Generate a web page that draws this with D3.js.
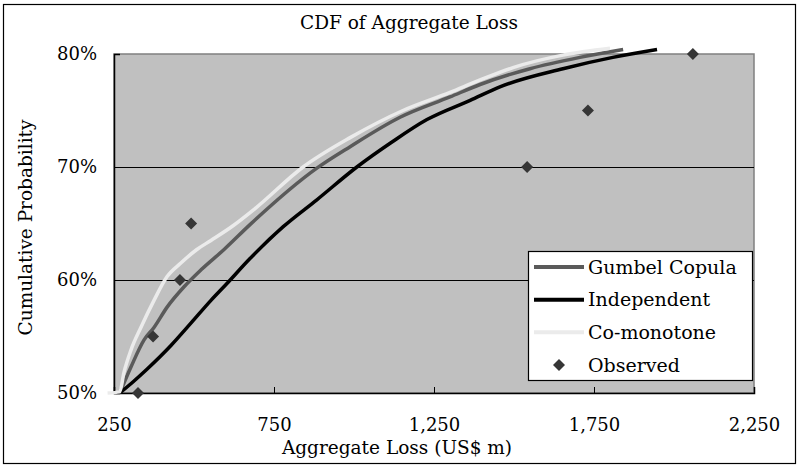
<!DOCTYPE html>
<html>
<head>
<meta charset="utf-8">
<script src="https://cdn.jsdelivr.net/npm/d3@7/dist/d3.min.js"></script>
<style>
  html, body { margin: 0; padding: 0; background: #fff; }
  svg { display: block; }
  text { font-family: "DejaVu Serif", "Liberation Serif", serif; fill: #000; }
</style>
</head>
<body>
<svg id="chart" width="800" height="468"></svg>
<script>
// Aggregate loss (US$ m) against cumulative probability (%)
const gumbelLoss = [268, 303, 344, 375, 416, 469, 522, 594, 675, 884, 988, 1144, 1300, 1394, 1550, 1706, 1841];
const gumbelProb = [50, 52.3, 54.7, 55.8, 57.6, 59.4, 60.9, 62.7, 64.9, 69.9, 71.8, 74.4, 76.2, 77.3, 78.7, 79.7, 80.4];

const independentLoss = [268, 310, 353, 428, 491, 553, 600, 675, 778, 884, 1009, 1113, 1228, 1363, 1456, 1653, 1809, 1947];
const independentProb = [50, 51, 52.1, 54.2, 56.2, 58.2, 59.6, 61.9, 64.7, 67.1, 70, 72.1, 74.2, 75.9, 77.1, 78.7, 79.7, 80.4];

const comonotoneLoss = [230, 268, 281, 303, 334, 375, 416, 459, 509, 553, 622, 690, 841, 988, 1153, 1300, 1394, 1497, 1653, 1800];
const comonotoneProb = [50, 50.1, 51.8, 53.8, 55.8, 58.2, 60.3, 61.5, 62.7, 63.5, 64.8, 66.3, 70, 72.6, 75, 76.6, 77.7, 78.8, 79.9, 80.5];

const observedLoss = [325, 372, 456, 491, 1541, 1731, 2059];
const observedProb = [50, 55, 60, 65, 70, 75, 80];

const xTicks = [250, 750, 1250, 1750, 2250];
const yTicks = [50, 60, 70, 80];

const seriesNames = ["Gumbel Copula", "Independent", "Co-monotone", "Observed"];

// ---- layout ----
const W = 800, H = 468;
const plot = { left: 114, top: 54, right: 754, bottom: 393 };
const lineColors = { "Gumbel Copula": "#5a5a5a", "Independent": "#000000", "Co-monotone": "#ebebeb" };
const markerColor = "#363636";

const svg = d3.select("#chart");

const x = d3.scaleLinear().domain([250, 2250]).range([plot.left, plot.right]);
const y = d3.scaleLinear().domain([50, 80]).range([plot.bottom, plot.top]);

// outer frame
svg.append("rect")
  .attr("x", 3.5).attr("y", 4.5).attr("width", W - 8).attr("height", H - 9)
  .attr("fill", "#fff").attr("stroke", "#000").attr("stroke-width", 1.2);

// plot background
svg.append("rect")
  .attr("x", plot.left).attr("y", plot.top)
  .attr("width", plot.right - plot.left).attr("height", plot.bottom - plot.top)
  .attr("fill", "#c0c0c0").attr("stroke", "#808080").attr("stroke-width", 1.5);

// horizontal gridlines
svg.append("g")
  .selectAll("line")
  .data(yTicks.filter(t => t > 50 && t < 80))
  .join("line")
  .attr("x1", plot.left).attr("x2", plot.right)
  .attr("y1", d => y(d) + 0.5).attr("y2", d => y(d) + 0.5)
  .attr("stroke", "#000").attr("stroke-width", 1);

// x axis: tick marks pointing into the plot
const xAxisG = svg.append("g")
  .attr("transform", `translate(0,${plot.bottom})`)
  .call(d3.axisBottom(x).tickValues(xTicks).tickSize(-6).tickPadding(25).tickFormat(d3.format(",")));
xAxisG.select(".domain").attr("stroke", "#000").attr("stroke-width", 1.5);
xAxisG.selectAll(".tick line").attr("stroke", "#000");
xAxisG.selectAll("text")
  .attr("font-family", "DejaVu Serif").attr("font-size", 18).attr("fill", "#000");

// y axis
const yAxisG = svg.append("g")
  .attr("transform", `translate(${plot.left},0)`)
  .call(d3.axisLeft(y).tickValues(yTicks).tickSize(-6).tickPadding(17).tickFormat(d => d + "%"));
yAxisG.select(".domain").attr("stroke", "#000").attr("stroke-width", 1.5);
yAxisG.selectAll(".tick line").attr("stroke", "#000");
yAxisG.selectAll("text")
  .attr("font-family", "DejaVu Serif").attr("font-size", 18).attr("fill", "#000");

// series lines
const line = d3.line()
  .x(d => x(d[0]))
  .y(d => y(d[1]))
  .curve(d3.curveMonotoneX);

const series = [
  { name: "Gumbel Copula", pts: d3.zip(gumbelLoss, gumbelProb) },
  { name: "Independent", pts: d3.zip(independentLoss, independentProb) },
  { name: "Co-monotone", pts: d3.zip(comonotoneLoss, comonotoneProb) }
];

svg.append("g")
  .selectAll("path")
  .data(series)
  .join("path")
  .attr("d", d => line(d.pts))
  .attr("fill", "none")
  .attr("stroke", d => lineColors[d.name])
  .attr("stroke-width", 3.5)
  .attr("stroke-linejoin", "round");

// observed points as diamonds
const diamond = d3.symbol().type(d3.symbolSquare).size(72);
svg.append("g")
  .selectAll("path")
  .data(d3.zip(observedLoss, observedProb))
  .join("path")
  .attr("d", diamond)
  .attr("transform", d => `translate(${x(d[0])},${y(d[1])}) rotate(45)`)
  .attr("fill", markerColor);

// title
svg.append("text")
  .attr("x", 409).attr("y", 29)
  .attr("text-anchor", "middle")
  .attr("font-size", 18.5)
  .text("CDF of Aggregate Loss");

// axis titles
svg.append("text")
  .attr("x", 397).attr("y", 454)
  .attr("text-anchor", "middle")
  .attr("font-size", 18.5)
  .text("Aggregate Loss (US$ m)");

svg.append("text")
  .attr("transform", `translate(32,${(plot.top + plot.bottom) / 2 + 4}) rotate(-90)`)
  .attr("text-anchor", "middle")
  .attr("font-size", 18.5)
  .text("Cumulative Probability");

// legend
const legend = svg.append("g").attr("transform", "translate(528,251)");
legend.append("rect")
  .attr("x", 0.5).attr("y", 0.5).attr("width", 224).attr("height", 129)
  .attr("fill", "#fff").attr("stroke", "#000").attr("stroke-width", 1.2);

const rowY = d3.scalePoint().domain(seriesNames).range([16, 114]);

const rows = legend.selectAll("g.row")
  .data(seriesNames)
  .join("g")
  .attr("class", "row")
  .attr("transform", d => `translate(0,${rowY(d)})`);

rows.filter(d => d !== "Observed")
  .append("line")
  .attr("x1", 6).attr("x2", 56)
  .attr("y1", 0).attr("y2", 0)
  .attr("stroke", d => lineColors[d])
  .attr("stroke-width", 4);

rows.filter(d => d === "Observed")
  .append("path")
  .attr("d", diamond)
  .attr("transform", "translate(31,0) rotate(45)")
  .attr("fill", markerColor);

rows.append("text")
  .attr("x", 60).attr("y", 0)
  .attr("dy", "0.35em")
  .attr("font-size", 19)
  .text(d => d);
</script>
</body>
</html>
